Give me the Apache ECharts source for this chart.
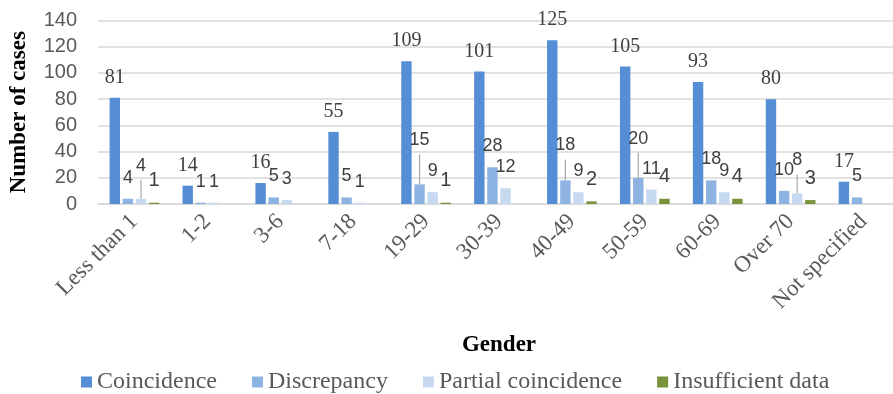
<!DOCTYPE html>
<html>
<head>
<meta charset="utf-8">
<script src="https://cdn.jsdelivr.net/npm/echarts@6/dist/echarts.min.js"></script>
<style>
  html, body { margin: 0; padding: 0; background: #ffffff; }
  #chart { width: 893px; height: 394px; }
</style>
</head>
<body>
<div id="chart"></div>
<script>
// Age groups on the category axis
const categories = ['Less than 1', '1-2', '3-6', '7-18', '19-29', '30-39', '40-49', '50-59', '60-69', 'Over 70', 'Not specified'];

// Case counts per outcome
const coincidence        = [81, 14, 16, 55, 109, 101, 125, 105, 93, 80, 17];
const discrepancy        = [4, 1, 5, 5, 15, 28, 18, 20, 18, 10, 5];
const partialCoincidence = [4, 1, 3, 1, 9, 12, 9, 11, 9, 8, 0];
const insufficientData   = [1, 0, 0, 0, 1, 0, 2, 4, 4, 3, 0];

const yTicks = [0, 20, 40, 60, 80, 100, 120, 140];

// Labels that sit higher than the rest, with a guide line back to their bar (lift in px)
const raisedLabels = {
  'Discrepancy': { '19-29': 23, '40-49': 14, '50-59': 18 },
  'Partial coincidence': { 'Less than 1': 12, 'Over 70': 12 }
};

const serif = '"Liberation Serif", "Times New Roman", serif';
const sans = '"Liberation Sans", Arial, sans-serif';

const BAR_WIDTH = 10.4;
const BAR_GAP = 0.26;          // fraction of bar width

const seriesDefs = [
  { name: 'Coincidence', values: coincidence, color: '#558ed5', font: serif, size: 20, distance: 10 },
  { name: 'Discrepancy', values: discrepancy, color: '#8db3e2', font: sans, size: 18, distance: 12 },
  { name: 'Partial coincidence', values: partialCoincidence, color: '#c6d9f1', font: sans, size: 18, distance: 12 },
  { name: 'Insufficient data', values: insufficientData, color: '#77933c', font: sans, size: 20, distance: 12 }
];

function makeBarSeries(def) {
  const lifts = raisedLabels[def.name] || {};
  return {
    name: def.name,
    type: 'bar',
    barWidth: BAR_WIDTH,
    barGap: (BAR_GAP * 100) + '%',
    itemStyle: { color: def.color },
    data: def.values.map((v, i) => {
      const item = { value: v };
      const lift = lifts[categories[i]];
      if (lift) item.label = { offset: [0, -lift] };
      return item;
    }),
    label: {
      show: true,
      position: 'top',
      distance: def.distance,
      color: '#404040',
      fontFamily: def.font,
      fontSize: def.size,
      formatter: p => (p.value ? String(p.value) : '')
    }
  };
}

// Guide lines from a raised label down to the top of its bar
const guideData = [];
seriesDefs.forEach((def, k) => {
  const lifts = raisedLabels[def.name] || {};
  categories.forEach((c, i) => {
    if (lifts[c]) guideData.push([i, def.values[i], lifts[c], k]);
  });
});

const guideSeries = {
  type: 'custom',
  silent: true,
  z: 3,
  data: guideData,
  encode: { x: 0, y: 1 },
  renderItem: function (params, api) {
    const idx = api.value(0);
    const val = api.value(1);
    const lift = api.value(2);
    const k = api.value(3);
    const n = seriesDefs.length;
    const gapPx = BAR_WIDTH * BAR_GAP;
    const total = n * BAR_WIDTH + (n - 1) * gapPx;
    const pt = api.coord([idx, val]);
    const x = pt[0] - total / 2 + k * (BAR_WIDTH + gapPx) + BAR_WIDTH / 2;
    const y1 = pt[1];
    const y2 = y1 - (lift + seriesDefs[k].distance - 5);
    return {
      type: 'line',
      shape: { x1: x, y1: y1, x2: x, y2: y2 },
      style: { stroke: '#a6a6a6', lineWidth: 1.2 }
    };
  }
};

const chart = echarts.init(document.getElementById('chart'), null, { renderer: 'canvas' });

chart.setOption({
  animation: false,
  backgroundColor: '#ffffff',
  grid: { left: 98, top: 20.5, width: 802, height: 183.5, containLabel: false, outerBoundsMode: 'none' },
  legend: {
    left: 81,
    top: 370,
    padding: 0,
    itemWidth: 11,
    itemHeight: 11,
    itemGap: 35,
    icon: 'rect',
    textStyle: { fontFamily: serif, fontSize: 24, color: '#595959' },
    data: seriesDefs.map(d => d.name)
  },
  xAxis: {
    type: 'category',
    data: categories,
    name: 'Gender',
    nameLocation: 'middle',
    nameGap: 130,
    nameTextStyle: { fontFamily: serif, fontSize: 23, fontWeight: 'bold', color: '#000000' },
    axisLine: { show: true, lineStyle: { color: '#d9d9d9', width: 1.5 } },
    axisTick: { show: false },
    axisLabel: {
      rotate: 45,
      margin: 14,
      interval: 0,
      fontFamily: serif,
      fontSize: 23,
      color: '#595959'
    }
  },
  yAxis: {
    type: 'value',
    min: yTicks[0],
    max: yTicks[yTicks.length - 1],
    interval: yTicks[1] - yTicks[0],
    name: 'Number of cases',
    nameLocation: 'middle',
    nameGap: 67,
    nameRotate: 90,
    nameTextStyle: { fontFamily: serif, fontSize: 23, fontWeight: 'bold', color: '#000000' },
    axisLine: { show: false },
    axisTick: { show: false },
    axisLabel: { margin: 21, fontFamily: sans, fontSize: 20, color: '#595959' },
    splitLine: { lineStyle: { color: '#d9d9d9', width: 1.5 } }
  },
  series: seriesDefs.map(makeBarSeries).concat([guideSeries])
});
</script>
</body>
</html>
